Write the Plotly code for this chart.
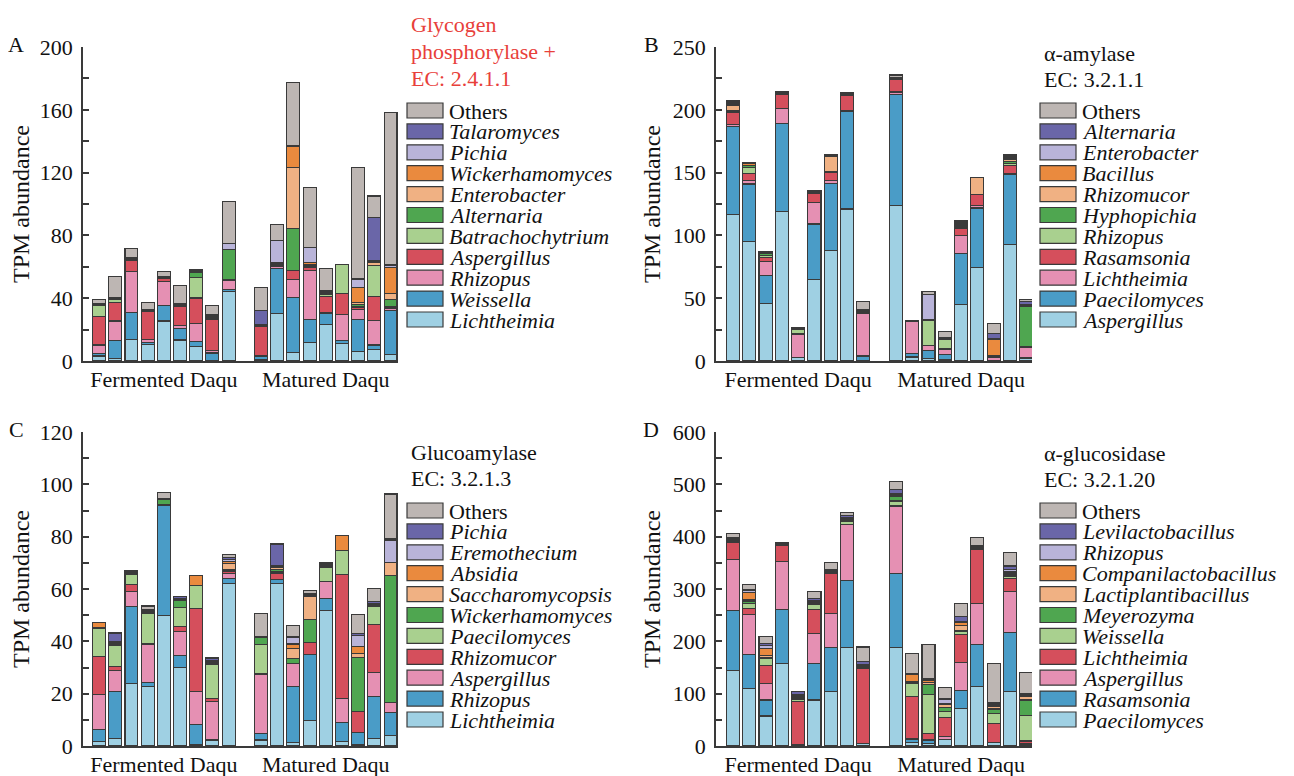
import plotly.graph_objects as go

# ---------------- data (bottom -> top stacking) ----------------
GROUPS = ["Fermented Daqu", "Matured Daqu"]
N_PER_GROUP = 9

A_TAXA = ["Lichtheimia", "Weissella", "Rhizopus", "Aspergillus", "Batrachochytrium", "Alternaria",
          "Enterobacter", "Wickerhamomyces", "Pichia", "Talaromyces", "Others"]
A_lichtheimia = [3.2, 1.7, 13.8, 10.6, 25.5, 13.4, 9.4, 0.4, 44.3, 1, 30.2, 5.3, 11.7, 23, 11.3, 6, 7.4, 4.3]
A_weissella = [1.5, 11.5, 17, 1, 10, 7.4, 3, 4.7, 1.3, 2, 28.9, 35.1, 14.9, 7.2, 1.9, 20.6, 2.8, 28.1]
A_rhizopus = [5.5, 12.3, 26.2, 2.1, 15.1, 2.1, 11.5, 1.7, 5.5, 0.3, 1, 11.7, 30.9, 0.5, 16.2, 6.4, 15.7, 1]
A_aspergillus = [17.9, 11.9, 6.8, 17.7, 1.7, 11.7, 16.2, 19.8, 0.4, 18.5, 0.8, 5.3, 2, 10.6, 13.6, 0.8, 14.9, 0.5]
A_batrachochytrium = [7, 1.5, 0.3, 0.3, 0.3, 0.4, 13.2, 0.5, 0.3, 0.3, 0.5, 0.3, 0.5, 0.8, 18.3, 0.8, 19.8, 0.5]
A_alternaria = [0.3, 0.3, 0.3, 0.3, 0.2, 0.4, 2.8, 0.5, 19.1, 0.3, 0.5, 26.6, 0.5, 0.8, 0, 1.5, 0.5, 4.9]
A_enterobacter = [0.2, 0.2, 0.2, 0.2, 0.2, 0.3, 0.3, 0.4, 0.2, 0.3, 0.5, 38.9, 1, 0.5, 0, 1, 1.5, 3.6]
A_wickerhamomyces = [0.2, 0.2, 0.2, 0.2, 0.2, 0.3, 0.3, 0.4, 0.2, 0.3, 0.5, 13.2, 1, 0.5, 0, 9.6, 0.7, 16.6]
A_pichia = [0.3, 0.5, 0.5, 0.3, 0.3, 0.3, 0.3, 0.5, 3.4, 0.5, 13.6, 0.3, 9.6, 0.5, 0, 5.3, 0.5, 1.6]
A_talaromyces = [0.3, 0.3, 0.5, 0.2, 0.3, 0.3, 0.5, 0.5, 0.3, 8.5, 0.5, 0.5, 0.3, 0.5, 0, 0.5, 27.7, 0.5]
A_others = [2.5, 13.2, 6, 4.3, 3.4, 11.5, 1, 5.7, 26.6, 14.9, 10.2, 40.4, 38.3, 14, 0, 70.6, 13.6, 96.8]
A_VALUES = [A_lichtheimia, A_weissella, A_rhizopus, A_aspergillus, A_batrachochytrium, A_alternaria,
            A_enterobacter, A_wickerhamomyces, A_pichia, A_talaromyces, A_others]

B_TAXA = ["Aspergillus", "Paecilomyces", "Lichtheimia", "Rasamsonia", "Rhizopus", "Hyphopichia",
          "Rhizomucor", "Bacillus", "Enterobacter", "Alternaria", "Others"]
B_aspergillus = [116.5, 95.2, 45.7, 119.1, 2.7, 65.2, 88.3, 121, 0.5, 123.7, 3.2, 2.1, 1, 45.2, 74.5, 0, 92.6, 2.1]
B_paecilomyces = [70.2, 45.7, 22.1, 69.7, 0, 43.9, 52.7, 77.7, 3.5, 88.6, 2.7, 6.4, 4.3, 40.4, 47.3, 0, 55.9, 0.3]
B_lichtheimia = [1.5, 2.7, 11.4, 12, 18.6, 16.8, 2.7, 0.8, 33.8, 1.9, 25.3, 3.7, 4, 14.1, 1.9, 2.7, 1, 8.5]
B_rasamsonia = [9.8, 5.9, 3.2, 11.2, 0.5, 7.2, 6.6, 12, 0.8, 9.8, 0.5, 0.3, 0.3, 6.1, 8.8, 0.5, 6.1, 0.3]
B_rhizopus = [1, 4.8, 1.9, 0.3, 3.2, 0.3, 0.3, 0.3, 0.3, 0.3, 0.3, 19.7, 7.4, 0.5, 0, 0.5, 1.5, 0.3]
B_hyphopichia = [0.5, 1, 1, 0.3, 0.3, 0.3, 0.3, 0.3, 0.3, 0.3, 0.3, 0.5, 0.5, 0.5, 0, 0.5, 1.5, 31.9]
B_rhizomucor = [4, 0.5, 0.3, 0.3, 0.3, 0.3, 12, 0.3, 0.3, 0.3, 0, 0.3, 0.3, 1.5, 13.8, 0.5, 1.5, 0.3]
B_bacillus = [1, 1.5, 0.3, 0.3, 1, 0.3, 0.5, 0.3, 0.3, 0.3, 0, 0.3, 0.3, 1.5, 0, 12.8, 1.5, 0.5]
B_enterobacter = [0.5, 0.3, 0.3, 0.3, 0, 0.3, 0.3, 0.3, 0.5, 0.3, 0, 19.4, 0.3, 0.5, 0, 0.5, 1, 1]
B_alternaria = [0.5, 0.3, 0.5, 0.3, 0, 0.3, 0.5, 0.5, 1, 0.3, 0, 0, 0.5, 0.5, 0, 3.7, 1, 2]
B_others = [1.5, 0.5, 0.5, 0.5, 0, 0.5, 0.5, 0.5, 5.9, 1.9, 0.2, 2.7, 4.8, 1, 0, 8, 0.5, 2]
B_VALUES = [B_aspergillus, B_paecilomyces, B_lichtheimia, B_rasamsonia, B_rhizopus, B_hyphopichia,
            B_rhizomucor, B_bacillus, B_enterobacter, B_alternaria, B_others]

C_TAXA = ["Lichtheimia", "Rhizopus", "Aspergillus", "Rhizomucor", "Paecilomyces", "Wickerhamomyces",
          "Saccharomycopsis", "Absidia", "Eremothecium", "Pichia", "Others"]
C_lichtheimia = [1.7, 2.9, 24, 22.7, 49.9, 30, 0.4, 2.3, 62.1, 2.3, 62.2, 1.3, 9.9, 51.8, 1.7, 0.4, 2.9, 4]
C_rhizopus = [4.5, 18.1, 29.3, 1.5, 42, 4.6, 7.7, 0.3, 1.8, 2.6, 1.3, 21.4, 24.9, 4.5, 7.3, 4.8, 15.9, 8.9]
C_aspergillus = [13.4, 7.8, 5.7, 14.8, 0, 9.2, 12.8, 14.3, 1.9, 22.6, 0, 8.9, 0, 6.4, 9.3, 0, 9.2, 3.8]
C_rhizomucor = [14.7, 1.5, 2.6, 0.3, 0, 1.9, 31.5, 1.3, 0.9, 0, 2.6, 0, 4.7, 0, 47.2, 7.9, 18.5, 0]
C_paecilomyces = [10.5, 8.3, 3.8, 11.4, 0.3, 7.3, 8.9, 12.8, 0.3, 11.2, 0.5, 0, 0, 5.7, 9.3, 0, 6.8, 0]
C_wickerhamomyces = [0.3, 0.3, 0.3, 0.3, 1.9, 2.6, 0, 0.5, 0.3, 2.8, 1, 1.9, 8.7, 0.3, 0, 20.7, 0.3, 48.3]
C_saccharomycopsis = [0, 0.3, 0.3, 0.3, 0, 0.3, 0, 0.5, 2.6, 0, 0.5, 3.8, 8.9, 0.3, 0, 1.7, 0.3, 5.1]
C_absidia = [2, 0.3, 0.3, 0.3, 0, 0.3, 3.8, 0.3, 0.5, 0, 0.5, 1.7, 0.3, 0.3, 5.6, 2.6, 0.3, 0]
C_eremothecium = [0, 0.3, 0.3, 0.3, 0, 0.3, 0, 0.5, 1, 0, 0.4, 2.4, 0.3, 0.3, 0, 4.2, 0.3, 8.4]
C_pichia = [0, 3.2, 0.5, 0.3, 0.3, 0.5, 0, 0.5, 0.8, 0.5, 8.2, 0.5, 0.7, 0.7, 0, 0.6, 0.7, 0.6]
C_others = [0, 0.3, 0, 1.3, 2.6, 0, 0, 0.5, 1, 8.7, 0, 4.1, 1.1, 0, 0, 7.3, 5.1, 17.2]
C_VALUES = [C_lichtheimia, C_rhizopus, C_aspergillus, C_rhizomucor, C_paecilomyces, C_wickerhamomyces,
            C_saccharomycopsis, C_absidia, C_eremothecium, C_pichia, C_others]

D_TAXA = ["Paecilomyces", "Rasamsonia", "Aspergillus", "Lichtheimia", "Weissella", "Meyerozyma",
          "Lactiplantibacillus", "Companilactobacillus", "Rhizopus", "Levilactobacillus", "Others"]
D_paecilomyces = [144.1, 110.3, 57.4, 156.9, 3.2, 88, 104, 188.1, 5.1, 188.8, 7, 5.1, 12.8, 72.1, 113.5, 7, 104, 3.8]
D_rasamsonia = [114.2, 63.8, 30.6, 103.3, 0, 70.2, 84.8, 128.2, 0, 140.3, 5.7, 6.4, 0, 33.8, 81, 0, 113.5, 0]
D_aspergillus = [98.9, 77.8, 30.6, 92.5, 0, 56.1, 65.1, 107.8, 0, 128.8, 1, 1, 5.1, 54.2, 78.4, 0, 77.8, 0]
D_lichtheimia = [31.9, 11.5, 35.1, 30.6, 81.6, 45.9, 75.3, 0, 142.2, 2, 81.6, 10.8, 37, 52.3, 102, 36.4, 25.5, 5.7]
D_weissella = [1.5, 9.6, 14, 1, 5.1, 9.6, 1.5, 5.1, 1.5, 8.3, 24.2, 74.6, 10.8, 6.4, 1.5, 19.1, 4, 48.5]
D_meyerozyma = [1.5, 3, 2, 1, 3, 3, 1.5, 2, 1.5, 9.6, 2, 19.1, 7.7, 2, 1.5, 8.3, 2, 30]
D_lactiplantibacillus = [1.5, 3, 3, 1, 2, 2, 1.5, 2, 1.5, 1.5, 2, 5.1, 6.4, 9.6, 1.5, 5.7, 3.7, 6.4]
D_companilactobacillus = [1.5, 14.7, 12.8, 1, 2, 2, 1.5, 2, 1.5, 1.5, 12.8, 2.5, 1.5, 5.1, 1.5, 2, 2, 2]
D_rhizopus = [1.5, 3, 6, 1, 2, 2, 1.5, 2, 2, 1.5, 1.5, 2.5, 7, 2, 1.5, 2, 5.1, 2]
D_levilactobacillus = [2, 3, 5, 1.4, 5, 2.5, 1.4, 3.5, 6.4, 7.7, 1.5, 2.7, 2, 10, 1.5, 2.4, 6.4, 2.4]
D_others = [7.7, 9.6, 12.8, 0, 0, 14, 12.8, 5.7, 27.4, 14.7, 38.3, 64.4, 22.3, 24.2, 14, 75.3, 24.9, 39.5]
D_VALUES = [D_paecilomyces, D_rasamsonia, D_aspergillus, D_lichtheimia, D_weissella, D_meyerozyma,
            D_lactiplantibacillus, D_companilactobacillus, D_rhizopus, D_levilactobacillus, D_others]

# stacking colours, bottom -> top (same palette order in every panel)
COLORS = ["#9fd0e3", "#4a9cc7", "#e590b3", "#d54f5c", "#a9d08f", "#4fa650",
          "#f0b183", "#ea8a3e", "#b9b4d9", "#6a66a8", "#bdb6b3"]

# ---------------- layout helpers ----------------
PAGE_OFF = 8                      # default body margin of the html page
W, H = 1294 - PAGE_OFF, 776 - PAGE_OFF
FONT = "Liberation Serif"
AX = "#3a3a3a"


def fx(px):
    return (px - PAGE_OFF) / W


def fy(py):
    return 1 - (py - PAGE_OFF) / H


# bar slot positions: 9 fermented, one empty slot, 9 matured
POS = list(range(N_PER_GROUP)) + list(range(N_PER_GROUP + 1, 2 * N_PER_GROUP + 1))
GROUP_CENTERS = [(N_PER_GROUP - 1) / 2, N_PER_GROUP + 1 + (N_PER_GROUP - 1) / 2]

PANELS = [
    dict(key="", letter="A", taxa=A_TAXA, values=A_VALUES, xd=(83, 398), yd=(47, 361),
         xr=(-0.99, 18.46), yr=(0, 200), dtick=40, minor=20,
         title=["Glycogen", "phosphorylase +", "EC: 2.4.1.1"], title_y=25, title_color="#e8403a",
         leg_x=407, leg_y=110.5, letter_xy=(16, 44)),
    dict(key="2", letter="B", taxa=B_TAXA, values=B_VALUES, xd=(716, 1032), yd=(47, 361),
         xr=(-1.04, 18.35), yr=(0, 250), dtick=50, minor=25,
         title=["α-amylase", "EC: 3.2.1.1"], title_y=53, title_color="#111111",
         leg_x=1040, leg_y=110.5, letter_xy=(651, 44)),
    dict(key="3", letter="C", taxa=C_TAXA, values=C_VALUES, xd=(83, 398), yd=(432, 746),
         xr=(-0.99, 18.46), yr=(0, 120), dtick=20, minor=10,
         title=["Glucoamylase", "EC: 3.2.1.3"], title_y=452, title_color="#111111",
         leg_x=407, leg_y=510.5, letter_xy=(16, 429)),
    dict(key="4", letter="D", taxa=D_TAXA, values=D_VALUES, xd=(716, 1032), yd=(432, 746),
         xr=(-1.04, 18.35), yr=(0, 600), dtick=100, minor=50,
         title=["α-glucosidase", "EC: 3.2.1.20"], title_y=453, title_color="#111111",
         leg_x=1040, leg_y=510.5, letter_xy=(651, 429)),
]

fig = go.Figure()
annotations = []
shapes = []
layout_axes = {}

for p in PANELS:
    xa, ya = "x" + p["key"], "y" + p["key"]
    for taxon, vals, color in zip(p["taxa"], p["values"], COLORS):
        fig.add_trace(go.Bar(
            x=POS, y=[v if v > 0 else None for v in vals], name=taxon,
            marker=dict(color=color, line=dict(color=AX, width=1.1)),
            width=0.8, xaxis=xa, yaxis=ya, showlegend=False,
        ))

    layout_axes["xaxis" + p["key"]] = dict(
        domain=[fx(p["xd"][0]), fx(p["xd"][1])], range=list(p["xr"]), anchor=ya, automargin=False,
        showgrid=False, zeroline=False, showline=True, linecolor=AX, linewidth=1.5,
        ticks="", tickmode="array", tickvals=GROUP_CENTERS, ticktext=GROUPS,
        tickfont=dict(family=FONT, size=22, color="#111111"), ticklabelstandoff=-2,
    )
    layout_axes["yaxis" + p["key"]] = dict(
        domain=[fy(p["yd"][1]), fy(p["yd"][0])], range=list(p["yr"]), anchor=xa, automargin=False,
        showgrid=False, zeroline=False, showline=True, linecolor=AX, linewidth=1.5,
        ticks="inside", ticklen=6, tickwidth=1.5, tickcolor=AX, tick0=0, dtick=p["dtick"],
        minor=dict(dtick=p["minor"], ticks="inside", ticklen=6, tickwidth=1.5, tickcolor=AX),
        tickfont=dict(family=FONT, size=22, color="#111111"), ticklabelstandoff=4,
        title=dict(text="TPM abundance", font=dict(family=FONT, size=24, color="#111111"), standoff=5),
    )

    # panel letter
    annotations.append(dict(x=fx(p["letter_xy"][0]), y=fy(p["letter_xy"][1]), xref="paper", yref="paper",
                            text=p["letter"], showarrow=False, xanchor="center", yanchor="middle",
                            font=dict(family=FONT, size=22, color="#111111")))
    # enzyme title lines
    for i, line in enumerate(p["title"]):
        annotations.append(dict(x=fx(p["leg_x"] + 2), y=fy(p["title_y"] + i * 26.6), xref="paper", yref="paper",
                                text=line, showarrow=False, xanchor="left", yanchor="middle",
                                font=dict(family=FONT, size=22, color=p["title_color"])))
    # legend (top entry = top of stack)
    pitch = 20.9
    items = list(zip(p["taxa"], COLORS))[::-1]
    for i, (taxon, color) in enumerate(items):
        cy = p["leg_y"] + i * pitch
        shapes.append(dict(type="rect", xref="paper", yref="paper",
                           x0=fx(p["leg_x"]), x1=fx(p["leg_x"] + 36),
                           y0=fy(cy + 7.5), y1=fy(cy - 7.5),
                           fillcolor=color, line=dict(color=AX, width=1.2)))
        label = taxon if taxon == "Others" else "<i>" + taxon + "</i>"
        annotations.append(dict(x=fx(p["leg_x"] + 40), y=fy(cy + 0.5), xref="paper", yref="paper",
                                text=label, showarrow=False, xanchor="left", yanchor="middle",
                                font=dict(family=FONT, size=22, color="#111111")))

fig.update_layout(
    width=W, height=H, margin=dict(l=0, r=0, t=0, b=0), autosize=False,
    paper_bgcolor="white", plot_bgcolor="white",
    barmode="stack", showlegend=False,
    annotations=annotations, shapes=shapes,
    **layout_axes,
)

fig.write_html("out.html")
